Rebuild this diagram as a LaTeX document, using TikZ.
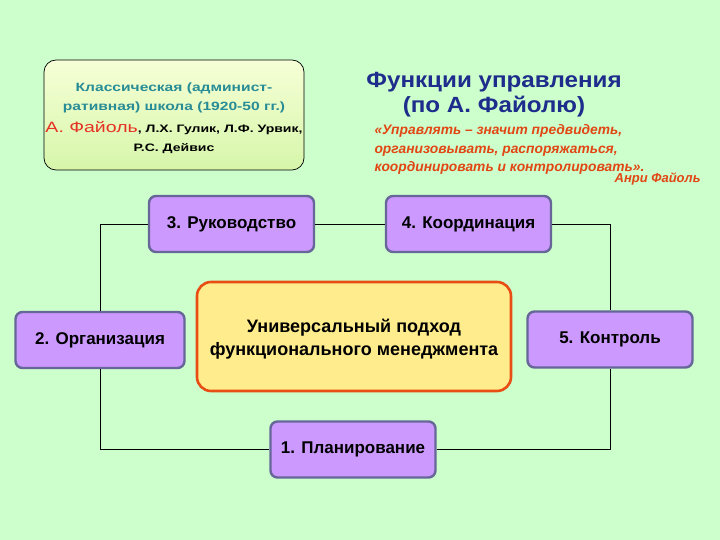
\documentclass[tikz,border=0pt]{standalone}
\usepackage{fontspec}
\setmainfont{Liberation Sans}
\newfontfamily\schoolfont{Liberation Sans}[FakeStretch=1.3]
\newfontfamily\titlefont{Liberation Sans}[FakeStretch=1.1]
\usepackage{xcolor}
\usepackage{tikz}
\usetikzlibrary{positioning}
\definecolor{bggreen}{RGB}{204,255,204}
\definecolor{boxfill}{RGB}{204,153,255}
\definecolor{boxedge}{RGB}{102,102,153}
\definecolor{corefill}{RGB}{255,236,140}
\definecolor{coreedge}{RGB}{232,78,20}
\definecolor{schooltop}{RGB}{246,255,214}
\definecolor{schoolbottom}{RGB}{214,246,170}
\definecolor{schoolteal}{RGB}{40,140,150}
\definecolor{fayolred}{RGB}{230,50,35}
\definecolor{titleblue}{RGB}{30,45,140}
\definecolor{quotered}{RGB}{225,70,20}
\begin{document}
\begin{tikzpicture}[x=1pt,y=-1pt,
  funcbox/.style={draw=boxedge, line width=2.4pt, fill=boxfill,
    rounded corners=7pt, minimum width=165pt, minimum height=56pt,
    font=\bfseries\fontsize{17}{20}\selectfont},
  loopline/.style={draw=black, line width=.8pt}]
  \useasboundingbox (0,0) rectangle (720,540);
  \fill[bggreen] (0,0) rectangle (720,540);

  % School box, top left; its text sits a little low in the box.
  \node[draw=black, line width=.7pt, rounded corners=12pt,
    top color=schooltop, bottom color=schoolbottom,
    minimum width=260pt, minimum height=110pt] (school) at (174,115) {};
  \node[align=center, font=\schoolfont\fontsize{12}{19}\selectfont]
    (schooltext) at (174,118)
    {{\bfseries\color{schoolteal}Классическая (админист-}\\
     {\bfseries\color{schoolteal}ративная) школа (1920-50 гг.)}\\[3pt]
     {\color{fayolred}\fontsize{15}{19}\selectfont А. Файоль}%
     {\bfseries\fontsize{10.8}{19}\selectfont, Л.Х. Гулик, Л.Ф. Урвик,}\\
     {\bfseries\fontsize{10.8}{19}\selectfont Р.С. Дейвис}};

  % Title and the quotation.
  \node[align=center, text=titleblue,
    font=\titlefont\bfseries\fontsize{22}{25}\selectfont]
    (title) at (494,95) {Функции управления\\(по А. Файолю)};
  \node[align=left, anchor=north west, text=quotered,
    font=\bfseries\itshape\fontsize{13.8}{18.5}\selectfont]
    (quote) at (371,121)
    {«Управлять – значит предвидеть,\\
     организовывать, распоряжаться,\\
     координировать и контролировать».};
  \node[anchor=east, text=quotered,
    font=\bfseries\itshape\fontsize{13}{15}\selectfont]
    (quoteauthor) at (704,179) {Анри Файоль};

  % The five functions round the core.
  \node[draw=coreedge, line width=2.6pt, fill=corefill, rounded corners=14pt,
    minimum width=314pt, minimum height=109pt] (core) at (354,336.5) {};
  \node[align=center, font=\bfseries\fontsize{18}{23}\selectfont]
    (coretext) at (354,339.5)
    {Универсальный подход\\функционального менеджмента};
  \node[funcbox] (plan) at (353,449.5) {1. Планирование};
  \node[funcbox, minimum width=169pt] (org) at (100,340) {2. Организация};
  \node[funcbox] (lead) at (231.5,224) {3. Руководство};
  \node[funcbox] (coord) at (468.5,224) {4. Координация};
  \node[funcbox] (ctrl) at (610,339.5) {5. Контроль};

  % Loop joining the functions.
  \draw[loopline] (lead.west) -| (org.north);
  \draw[loopline] (org.south) |- (plan.west);
  \draw[loopline] (plan.east) -| (ctrl.south);
  \draw[loopline] (ctrl.north) |- (coord.east);
  \draw[loopline] (coord.west) -- (lead.east);
\end{tikzpicture}
\end{document}
